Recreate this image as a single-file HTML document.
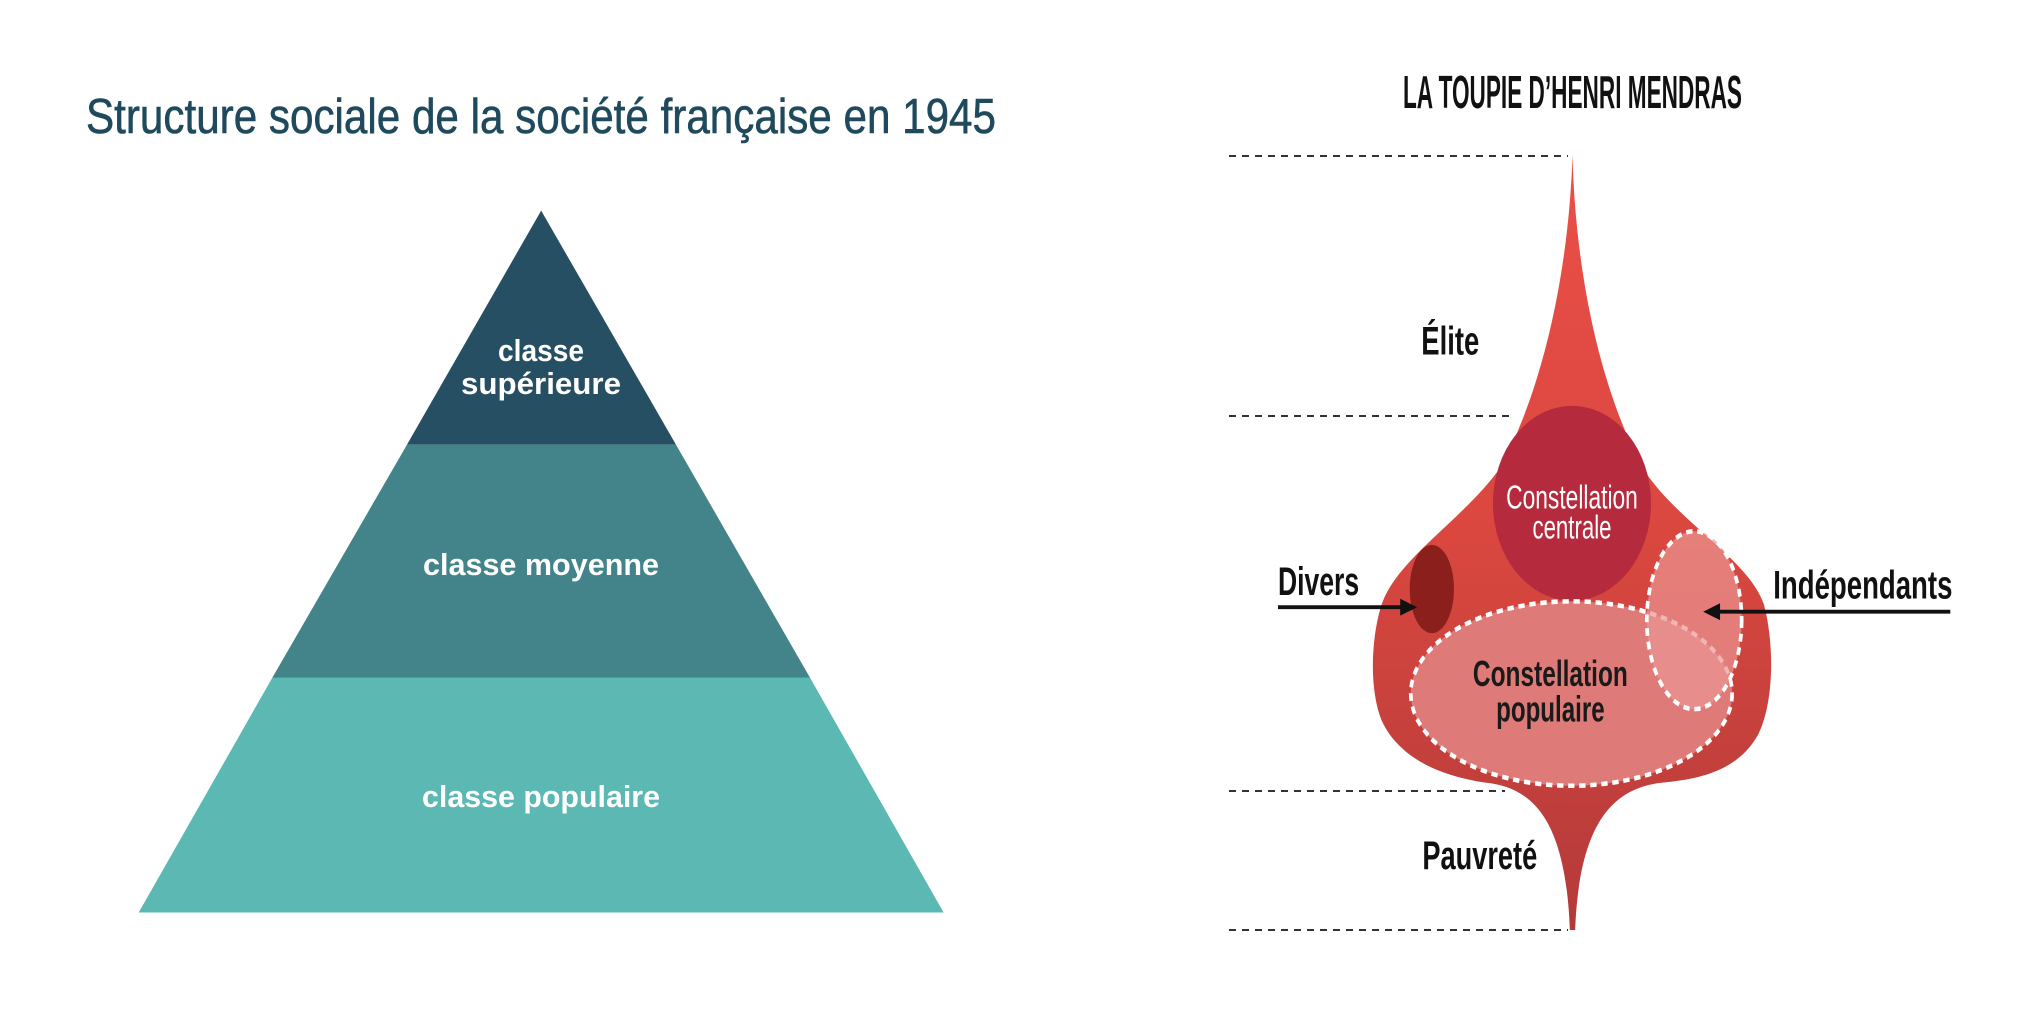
<!DOCTYPE html>
<html><head><meta charset="utf-8"><style>
html,body{margin:0;padding:0;background:#fff;width:2022px;height:1013px;overflow:hidden}
svg{display:block}
</style></head><body>
<svg width="2022" height="1013" viewBox="0 0 2022 1013" xmlns="http://www.w3.org/2000/svg">
  <defs>
    <linearGradient id="toupieGrad" x1="0" y1="0" x2="0" y2="1">
      <stop offset="0" stop-color="#ea4f47"/>
      <stop offset="0.5" stop-color="#d9473f"/>
      <stop offset="1" stop-color="#b33a3a"/>
    </linearGradient>
  </defs>

  <!-- LEFT: pyramid -->
  <g>
    <text x="86" y="133" font-family="Liberation Sans, sans-serif" font-size="49" fill="#1f4a5e" stroke="#1f4a5e" stroke-width="0.6" textLength="910" lengthAdjust="spacingAndGlyphs">Structure sociale de la société française en 1945</text>
    <g transform="scale(0.6481)">
      <polygon points="835,325 1043,686 628,686" fill="#264f63"/>
      <polygon points="628,686 1043,686 1250,1046 420,1046" fill="#42848a"/>
      <polygon points="420,1046 1250,1046 1456,1408 214,1408" fill="#5bb8b3"/>
    </g>
    <g font-family="Liberation Sans, sans-serif" font-weight="bold" fill="#fff" text-anchor="middle" font-size="31">
      <text x="541" y="361" textLength="86" lengthAdjust="spacingAndGlyphs">classe</text>
      <text x="541" y="394" textLength="160" lengthAdjust="spacingAndGlyphs">supérieure</text>
      <text x="541" y="575" textLength="236" lengthAdjust="spacingAndGlyphs">classe moyenne</text>
      <text x="541" y="807" textLength="238" lengthAdjust="spacingAndGlyphs">classe populaire</text>
    </g>
  </g>

  <!-- RIGHT: toupie -->
  <g>
    <text x="1403" y="108" font-family="Liberation Sans, sans-serif" font-weight="bold" font-size="46" fill="#111" textLength="339" lengthAdjust="spacingAndGlyphs">LA TOUPIE D’HENRI MENDRAS</text>
    <g stroke="#333" stroke-width="2" stroke-dasharray="7,6">
      <line x1="1229" y1="156" x2="1568" y2="156"/>
      <line x1="1229" y1="416" x2="1511" y2="416"/>
      <line x1="1229" y1="791" x2="1505" y2="791"/>
      <line x1="1229" y1="930" x2="1568" y2="930"/>
    </g>
    <g transform="translate(1200,0) scale(0.5269,0.6494)">
      <path fill="url(#toupieGrad)" d="M707,238 C712,420 760,600 840,720 C900,800 1040,860 1070,930 C1090,990 1090,1080 1060,1130 C1020,1190 940,1200 880,1205 C790,1212 720,1260 712,1432 L702,1432 C694,1260 630,1212 540,1205 C460,1195 380,1170 345,1110 C320,1060 325,980 345,930 C375,860 500,800 570,720 C650,600 700,420 707,238 Z"/>
      <circle cx="706" cy="775" r="150" fill="#b52a3d"/>
      <ellipse cx="440" cy="907" rx="42" ry="68" fill="#8a1f1c"/>
      <ellipse cx="705" cy="1068" rx="305" ry="142" fill="#de7b78" stroke="#fff" stroke-width="7" stroke-dasharray="12,9"/>
      <ellipse cx="938" cy="955" rx="90" ry="137" fill="#eb9593" fill-opacity="0.7" stroke="#fff" stroke-width="7" stroke-dasharray="12,9"/>
      <g font-family="Liberation Sans, sans-serif" text-anchor="middle">
        <text x="706" y="783" font-size="52" fill="#fff" textLength="250" lengthAdjust="spacingAndGlyphs">Constellation</text>
        <text x="706" y="829" font-size="52" fill="#fff" textLength="150" lengthAdjust="spacingAndGlyphs">centrale</text>
        <text x="665" y="1056" font-size="56" font-weight="bold" fill="#1a1a1a" textLength="294" lengthAdjust="spacingAndGlyphs">Constellation</text>
        <text x="665" y="1111" font-size="56" font-weight="bold" fill="#1a1a1a" textLength="206" lengthAdjust="spacingAndGlyphs">populaire</text>
      </g>
      <g font-family="Liberation Sans, sans-serif" font-weight="bold" fill="#111" font-size="62">
        <text x="420" y="546" textLength="110" lengthAdjust="spacingAndGlyphs">Élite</text>
        <text x="422" y="1338" textLength="218" lengthAdjust="spacingAndGlyphs">Pauvreté</text>
        <text x="148" y="916" textLength="154" lengthAdjust="spacingAndGlyphs">Divers</text>
        <text x="1088" y="922" textLength="340" lengthAdjust="spacingAndGlyphs">Indépendants</text>
      </g>
      <g>
        <line x1="148" y1="935" x2="385" y2="935" stroke="#111" stroke-width="6"/>
        <polygon points="412,935 380,922 380,948" fill="#111"/>
      </g>
      <g>
        <line x1="1424" y1="942" x2="982" y2="942" stroke="#111" stroke-width="6"/>
        <polygon points="955,942 987,929 987,955" fill="#111"/>
      </g>
    </g>
  </g>
</svg>
</body></html>
